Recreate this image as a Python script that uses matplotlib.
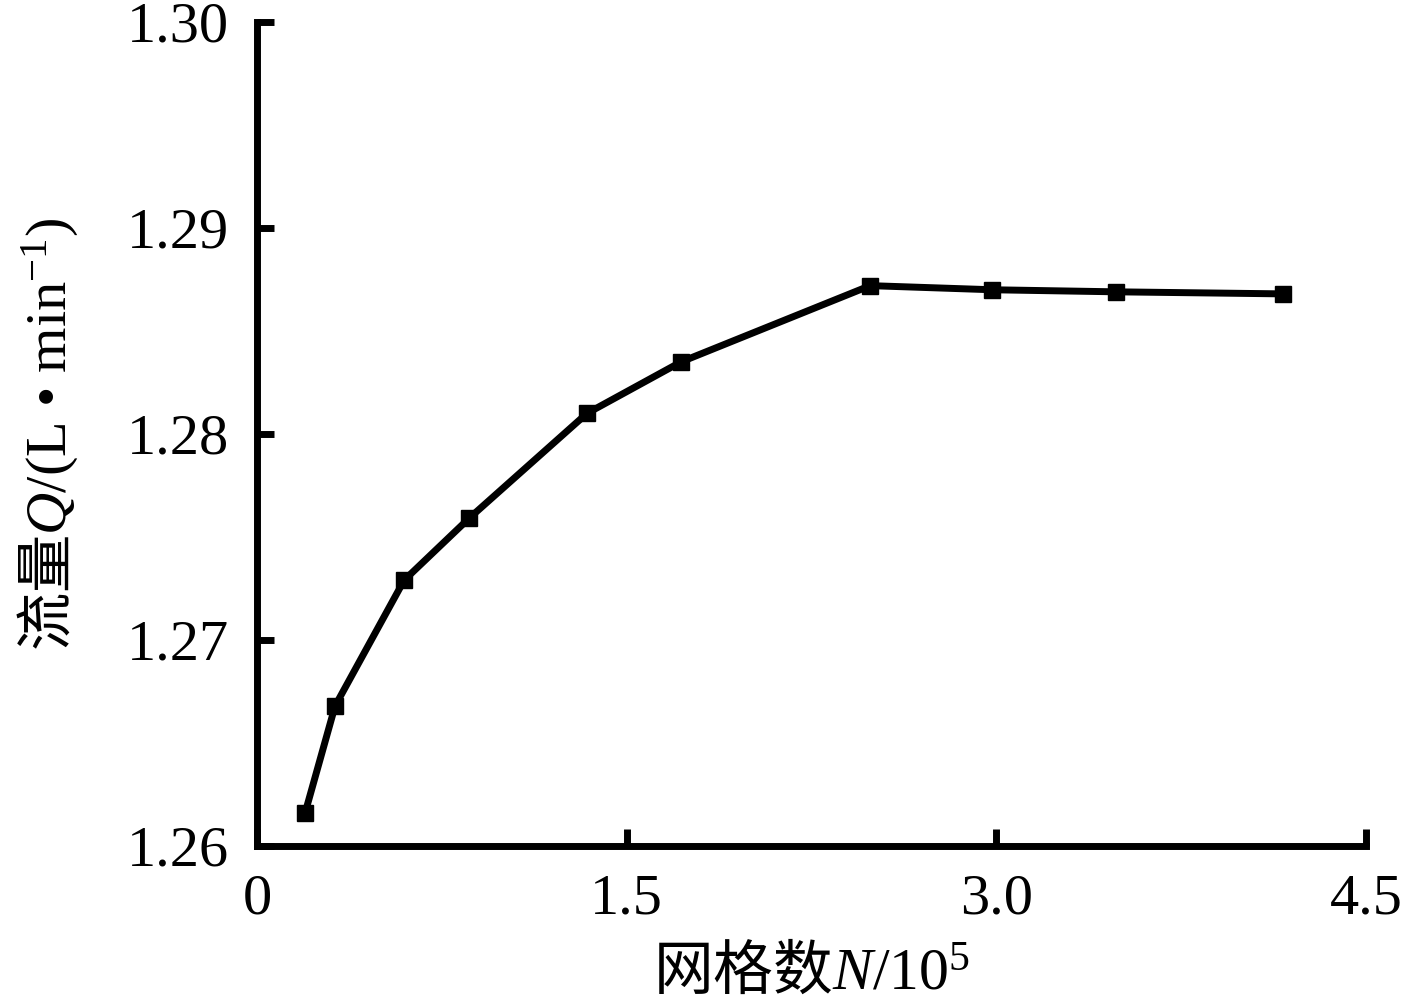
import matplotlib
matplotlib.use("Agg")
import matplotlib.pyplot as plt

# mesh count (x 10^5) and flow rate Q (L/min)
grid_n = [0.195, 0.317, 0.597, 0.860, 1.339, 1.721, 2.488, 2.983, 3.486, 4.164]
flow_q = [1.2616, 1.2668, 1.2729, 1.2759, 1.2810, 1.2835, 1.2872, 1.2870, 1.2869, 1.2868]

x_ticks = [0, 1.5, 3.0, 4.5]
x_labels = ["0", "1.5", "3.0", "4.5"]
y_ticks = [1.26, 1.27, 1.28, 1.29, 1.30]
y_labels = ["1.26", "1.27", "1.28", "1.29", "1.30"]

plt.rcParams['font.family'] = ['Liberation Serif', 'Noto Sans CJK SC']
plt.rcParams['mathtext.fontset'] = 'custom'
plt.rcParams['mathtext.rm'] = 'Liberation Serif'
plt.rcParams['mathtext.it'] = 'Liberation Serif:italic'
plt.rcParams['mathtext.sf'] = 'Noto Sans CJK SC'

fig = plt.figure(figsize=(14.09, 10.07), dpi=100)
ax = fig.add_axes([0.1824, 0.1599, 0.9695 - 0.1824, 0.9782 - 0.1599])

ax.plot(grid_n, flow_q, color='black', linewidth=5, marker='s', markersize=11)

ax.set_xlim(0, 4.5)
ax.set_ylim(1.26, 1.30)
ax.set_xticks(x_ticks)
ax.set_xticklabels(x_labels)
ax.set_yticks(y_ticks)
ax.set_yticklabels(y_labels)

for side in ['top', 'right']:
    ax.spines[side].set_visible(False)
for side in ['left', 'bottom']:
    ax.spines[side].set_linewidth(5)

ax.tick_params(direction='in', length=12, width=5, labelsize=42, pad=20)

ax.set_xlabel(r'$\mathsf{网格数}N/10^5$', fontsize=43, labelpad=12)
ax.set_ylabel(r'$\mathsf{流量}Q/(\mathrm{L\ •\ min}^{-1})$', fontsize=42, labelpad=34)

fig.savefig('out.png', dpi=100)
